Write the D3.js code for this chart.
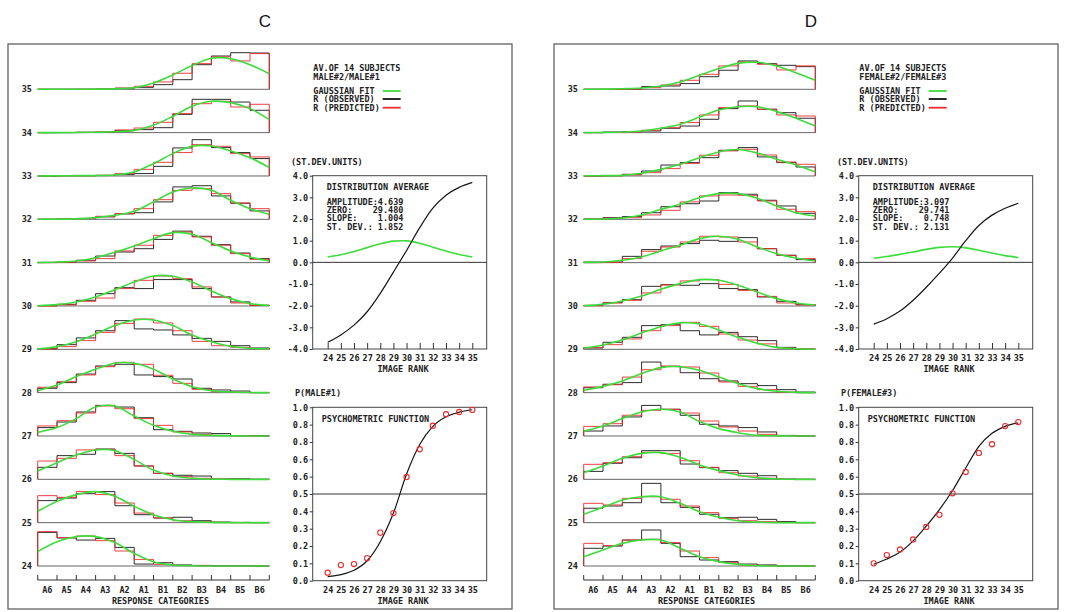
<!DOCTYPE html>
<html>
<head>
<meta charset="utf-8">
<script src="https://cdn.jsdelivr.net/npm/d3@7"></script>
<style>
  body { margin: 0; background: #fff; }
  text { font-family: "DejaVu Sans Mono", monospace; font-size: 8.5px; font-weight: bold; fill: #222; }
  text.title { font-family: "Liberation Sans", Arial, sans-serif; font-size: 17px; font-weight: normal; fill: #111; }
</style>
</head>
<body>
<svg id="chart" width="1066" height="612"></svg>
<script>
// Response categories (x of the histograms) and image ranks (one histogram row each)
const categories = ["A6", "A5", "A4", "A3", "A2", "A1", "B1", "B2", "B3", "B4", "B5", "B6"]
const rowRanks = [24, 25, 26, 27, 28, 29, 30, 31, 32, 33, 34, 35]
const imageRanks = [24, 25, 26, 27, 28, 29, 30, 31, 32, 33, 34, 35]
const zTicks = [-4, -3, -2, -1, 0, 1, 2, 3, 4]
const zTickLabels = ["-4.0", "-3.0", "-2.0", "-1.0", "0.0", "1.0", "2.0", "3.0", "4.0"]
const pTicks = [0, 0.1, 0.2, 0.3, 0.4, 0.5, 0.6, 0.7, 0.8, 0.9, 1.0]
const pTickLabels = ["0.0", "0.1", "0.2", "0.3", "0.4", "0.5", "0.6", "0.6", "0.8", "0.8", "1.0"]

// Panel C: response frequencies (%), rows 24..35, categories A6..B6
const observedC = [
  [22.4, 18.7, 17.3, 18.4, 12.4, 1.3, 2.2, 0.7, 0.4, 0.2, 0.2, 0],
  [14.7, 16.4, 19.3, 20.7, 11.3, 5.3, 3.1, 3.6, 1.3, 0.4, 0.2, 0],
  [8.0, 15.8, 16.7, 20.2, 17.3, 8.9, 4.0, 2.7, 2.2, 0.2, 0.4, 0],
  [5.6, 9.3, 16.0, 20.4, 19.3, 12.2, 4.2, 3.1, 2.0, 1.6, 0.2, 0.2],
  [2.9, 6.7, 12.4, 17.8, 18.9, 11.8, 10.7, 9.1, 2.9, 1.8, 1.1, 0],
  [0.4, 3.1, 7.6, 12.4, 19.1, 13.6, 12.9, 9.6, 7.3, 5.3, 2.4, 0.9],
  [0.2, 1.1, 3.8, 8.2, 12.2, 11.6, 17.6, 17.6, 11.6, 6.0, 2.7, 0.4],
  [0.2, 0.4, 1.6, 4.4, 7.1, 9.3, 15.5, 21.0, 17.6, 12.0, 6.4, 2.7],
  [0, 0.3, 0.6, 1.6, 3.6, 4.4, 11.6, 21.6, 22.4, 15.6, 10.7, 5.6],
  [0, 0.2, 0.2, 0.4, 0.9, 1.6, 6.4, 18.7, 24.2, 18.9, 15.6, 11.6],
  [0, 0, 0.2, 0.4, 1.3, 2.0, 3.3, 12.2, 22.2, 22.2, 20.4, 14.9],
  [0, 0, 0, 0.2, 0.7, 1.3, 3.1, 6.4, 16.4, 22.2, 24.4, 24.2]
]
const predictedC = [
  [22.9, 18.9, 20.0, 16.9, 10.0, 4.4, 1.1, 0.4, 0.2, 0, 0, 0],
  [18.0, 16.9, 20.7, 18.7, 13.1, 6.4, 3.1, 1.3, 0.7, 0.2, 0, 0],
  [12.2, 14.0, 19.6, 20.0, 15.8, 8.9, 4.0, 1.8, 0.7, 0.2, 0, 0],
  [6.7, 10.2, 15.3, 20.0, 18.2, 11.6, 7.1, 2.7, 1.1, 0.4, 0.2, 0],
  [3.6, 7.3, 11.8, 17.3, 20.2, 18.9, 11.6, 6.2, 2.2, 0.7, 0.2, 0],
  [0.2, 1.8, 5.8, 11.3, 17.3, 20.2, 17.6, 12.4, 5.3, 2.4, 1.3, 0.4],
  [0, 0.7, 3.1, 5.3, 11.6, 17.1, 20.0, 18.2, 12.7, 6.0, 2.0, 0.4],
  [0, 0.3, 1.1, 2.7, 7.8, 11.6, 18.2, 20.4, 17.1, 11.6, 6.0, 2.2],
  [0, 0.2, 0.5, 2.0, 3.8, 7.1, 13.1, 19.3, 20.4, 17.1, 10.9, 7.1],
  [0, 0.1, 0.2, 0.4, 1.6, 4.4, 9.1, 15.6, 20.9, 19.8, 14.9, 12.7],
  [0, 0.1, 0.3, 0.5, 1.8, 3.1, 6.9, 12.7, 19.3, 20.9, 17.1, 18.9],
  [0, 0, 0.1, 0.3, 0.8, 2.0, 4.9, 10.7, 17.1, 21.6, 18.9, 23.8]
]
// Gaussian fit, read at the 13 category edges
const gaussC = [
  [9.6, 16.2, 19.6, 19.6, 15.6, 8.4, 2.9, 0.7, 0.2, 0, 0, 0, 0],
  [7.6, 14.2, 18.7, 20.7, 17.6, 10.9, 5.3, 2.0, 0.7, 0.2, 0, 0, 0],
  [5.6, 11.1, 16.2, 19.6, 19.1, 13.3, 6.2, 2.2, 0.7, 0.1, 0, 0, 0],
  [2.4, 5.6, 11.6, 19.3, 20.0, 13.3, 7.1, 3.1, 1.1, 0.4, 0.1, 0, 0],
  [1.3, 5.1, 10.7, 15.6, 19.6, 19.6, 15.6, 9.1, 4.0, 1.3, 0.4, 0.1, 0],
  [0.2, 1.8, 5.1, 10.2, 15.8, 19.6, 19.6, 15.8, 9.6, 5.1, 2.0, 0.7, 0.2],
  [0.2, 0.9, 2.7, 6.0, 10.9, 16.0, 20.0, 19.8, 16.0, 10.0, 4.9, 1.6, 0.4],
  [0, 0.4, 1.1, 3.3, 6.9, 11.1, 16.0, 20.0, 18.9, 13.3, 7.8, 3.8, 1.1],
  [0, 0.1, 0.3, 1.1, 2.7, 5.3, 11.6, 18.2, 20.9, 19.3, 12.7, 7.1, 3.3],
  [0, 0.1, 0.2, 0.3, 0.7, 2.7, 8.2, 14.9, 19.8, 20.0, 16.7, 12.2, 5.6],
  [0, 0, 0.1, 0.3, 0.6, 1.5, 4.9, 10.9, 17.6, 20.9, 20.0, 16.0, 8.7],
  [0, 0, 0, 0.1, 0.3, 1.0, 4.2, 9.6, 15.8, 20.7, 20.4, 16.4, 10.4]
]
const zCurveC = [-3.69, -3.35, -2.9, -2.28, -1.43, -0.45, 0.55, 1.6, 2.5, 3.1, 3.46, 3.69]
const zGaussC = [0.25, 0.35, 0.5, 0.68, 0.86, 0.98, 0.99, 0.88, 0.7, 0.52, 0.36, 0.25]
const psychPointsC = [0.046, 0.09, 0.096, 0.13, 0.277, 0.39, 0.598, 0.758, 0.894, 0.96, 0.973, 0.985]
const psychCurveC = [0.023, 0.035, 0.06, 0.115, 0.225, 0.39, 0.615, 0.785, 0.89, 0.945, 0.972, 0.986]
const paramsC = ["AMPLITUDE:4.639", "ZERO:    29.480", "SLOPE:    1.004", "ST. DEV.: 1.852"]

// Panel D
const observedD = [
  [11.8, 13.3, 17.3, 24.0, 15.1, 6.2, 4.0, 2.9, 1.3, 0.7, 0, 0],
  [9.6, 11.1, 13.3, 26.2, 13.3, 10.2, 5.6, 3.3, 3.6, 2.2, 0.7, 0],
  [5.3, 10.7, 14.4, 19.1, 19.1, 10.2, 7.8, 5.8, 4.0, 2.4, 0.2, 0],
  [3.3, 6.7, 12.7, 20.4, 17.8, 13.8, 7.8, 6.7, 5.6, 2.7, 0.4, 0],
  [3.3, 5.6, 6.7, 20.4, 17.6, 13.3, 9.3, 7.8, 6.0, 4.7, 2.0, 0.4],
  [0.9, 4.7, 8.0, 15.8, 16.4, 12.4, 9.6, 11.3, 8.4, 5.8, 1.3, 0.2],
  [0.4, 2.2, 4.2, 13.1, 14.2, 13.8, 14.9, 11.6, 10.9, 6.0, 3.1, 0.9],
  [0.4, 0.4, 4.2, 8.7, 11.1, 12.7, 14.9, 14.2, 16.7, 9.3, 4.9, 2.0],
  [0.2, 1.1, 1.8, 4.4, 8.4, 10.4, 12.2, 17.8, 16.7, 12.7, 8.9, 4.0],
  [0, 0.2, 1.1, 3.3, 7.3, 8.9, 12.2, 17.1, 18.9, 12.7, 8.9, 6.0],
  [0, 0.4, 0.7, 1.1, 2.9, 4.4, 8.9, 16.0, 21.1, 15.6, 13.3, 9.6],
  [0, 0, 0.2, 1.8, 2.2, 3.8, 8.4, 12.7, 18.9, 17.1, 16.0, 15.1]
]
const predictedD = [
  [15.1, 13.6, 17.3, 17.8, 15.6, 10.0, 5.6, 2.4, 0.7, 0.4, 0, 0],
  [12.9, 11.8, 16.2, 17.3, 15.6, 11.1, 6.7, 2.9, 1.3, 0.7, 0.2, 0],
  [10.0, 11.1, 15.1, 18.0, 17.3, 12.4, 8.0, 4.4, 2.2, 0.7, 0, 0],
  [6.4, 8.2, 13.8, 17.1, 17.8, 15.3, 10.0, 6.0, 3.3, 1.1, 0.2, 0],
  [3.8, 5.3, 10.4, 15.3, 17.6, 17.1, 13.1, 7.1, 4.2, 2.0, 0.4, 0],
  [1.1, 3.1, 6.9, 12.4, 15.8, 18.0, 15.3, 10.2, 6.2, 3.6, 0.9, 0.2],
  [0.2, 2.0, 3.8, 8.7, 14.0, 16.7, 17.6, 14.4, 10.4, 6.4, 2.0, 0.7],
  [0, 0.2, 2.7, 7.6, 10.4, 13.8, 17.6, 17.1, 13.8, 9.3, 4.9, 2.7],
  [0, 0.7, 1.1, 2.9, 6.0, 11.6, 15.6, 16.2, 16.0, 12.2, 6.7, 5.1],
  [0, 0.1, 0.7, 2.2, 4.9, 8.4, 13.8, 16.7, 17.8, 14.0, 9.3, 7.8],
  [0, 0.2, 0.4, 1.6, 3.3, 6.7, 11.8, 16.7, 17.8, 15.6, 11.8, 11.1],
  [0, 0, 0.1, 1.1, 2.9, 6.0, 10.0, 15.6, 18.2, 16.7, 12.9, 15.6]
]
const gaussD = [
  [6.2, 10.7, 15.1, 17.3, 17.3, 11.8, 6.2, 2.9, 1.1, 0.2, 0, 0, 0],
  [5.6, 10.2, 15.1, 17.3, 17.3, 12.9, 7.3, 3.6, 1.3, 0.4, 0, 0, 0],
  [4.4, 8.9, 14.0, 17.3, 17.8, 14.7, 9.6, 5.8, 2.9, 1.1, 0.2, 0, 0],
  [3.3, 6.7, 11.6, 16.0, 17.8, 16.0, 9.6, 4.9, 2.2, 0.4, 0.1, 0, 0],
  [1.6, 4.2, 7.8, 12.7, 16.7, 17.3, 14.9, 10.4, 6.0, 2.7, 0.9, 0.2, 0],
  [0.9, 2.9, 6.2, 10.9, 15.1, 17.6, 16.9, 12.9, 8.0, 4.0, 1.3, 0.4, 0],
  [0.2, 1.1, 3.3, 6.7, 11.1, 14.9, 17.6, 17.1, 13.8, 9.3, 4.9, 2.0, 0.7],
  [0.2, 0.4, 1.6, 3.8, 7.8, 11.6, 16.0, 17.6, 15.6, 10.4, 6.0, 3.1, 1.1],
  [0, 0.2, 0.9, 2.9, 6.7, 10.0, 14.4, 17.1, 17.1, 14.0, 8.9, 4.4, 2.2],
  [0.1, 0.2, 0.4, 1.8, 4.4, 7.8, 12.2, 16.0, 17.6, 15.3, 11.1, 7.3, 2.7],
  [0, 0.2, 0.4, 1.1, 2.9, 5.6, 10.4, 15.1, 17.3, 17.3, 14.0, 9.6, 4.4],
  [0, 0.1, 0.4, 0.9, 2.2, 4.9, 9.3, 13.8, 17.3, 18.0, 15.6, 11.1, 6.0]
]
const zCurveD = [-2.85, -2.6, -2.25, -1.75, -1.15, -0.5, 0.2, 1.0, 1.7, 2.18, 2.5, 2.73]
const zGaussD = [0.19, 0.27, 0.37, 0.48, 0.6, 0.69, 0.72, 0.67, 0.56, 0.43, 0.31, 0.22]
const psychPointsD = [0.1, 0.148, 0.18, 0.238, 0.31, 0.38, 0.504, 0.627, 0.737, 0.787, 0.892, 0.915]
const psychCurveD = [0.095, 0.125, 0.165, 0.23, 0.315, 0.41, 0.52, 0.65, 0.775, 0.85, 0.89, 0.91]
const paramsD = ["AMPLITUDE:3.097", "ZERO:    29.741", "SLOPE:    0.748", "ST. DEV.: 2.131"]

const panels = [
  {dx: 0, title: "C", pair: "MALE#2/MALE#1", pLabel: "P(MALE#1)", params: paramsC,
    observed: observedC, predicted: predictedC, gauss: gaussC,
    zCurve: zCurveC, zGauss: zGaussC, pPoints: psychPointsC, pCurve: psychCurveC},
  {dx: 546, title: "D", pair: "FEMALE#2/FEMALE#3", pLabel: "P(FEMALE#3)", params: paramsD,
    observed: observedD, predicted: predictedD, gauss: gaussD,
    zCurve: zCurveD, zGauss: zGaussD, pPoints: psychPointsD, pCurve: psychCurveD}
]

const GREEN = "#3ddc3d", RED = "#ee2a2a", BLACK = "#151515", GREY = "#666"

// Scales shared by both panels (panel D is shifted with a transform)
const xCat = d3.scaleBand().domain(categories).range([37.7, 269.3]).padding(0)
const xEdge = d3.scaleLinear().domain([0, categories.length]).range([37.7, 269.3])
const yRow = d3.scaleLinear().domain([24, 35]).range([566, 89.3])
const hScale = d3.scaleLinear().domain([0, 30]).range([0, 45])
const xRank = d3.scaleLinear().domain([24, 35]).range([327.7, 472.3])
const yZ = d3.scaleLinear().domain([-4, 4]).range([349, 175.7])
const yP = d3.scaleLinear().domain([0, 1]).range([580.7, 407.3])
const box1 = {x0: 312.7, x1: 486.7, y0: 175.7, y1: 349}
const box2 = {x0: 312.7, x1: 486.7, y0: 407.3, y1: 580.7}

const svg = d3.select("#chart")

/**
 * Outline of a step histogram for one row, closed down to the baseline at both ends.
 */
const stepPoints = (vals, base) => {
  const bw = xCat.bandwidth()
  const pts = [[xCat(categories[0]), base]]
  vals.forEach((v, i) => {
    const x = xCat(categories[i])
    pts.push([x, base - hScale(v)], [x + bw, base - hScale(v)])
  })
  pts.push([xCat(categories[categories.length - 1]) + bw, base])
  return pts
}

const drawHistograms = (g, p) => {
  const line = d3.line()
  rowRanks.forEach((r, ri) => {
    const base = yRow(r)
    g.append("line")
      .attr("x1", xEdge(0)).attr("x2", xEdge(categories.length))
      .attr("y1", base).attr("y2", base)
      .attr("stroke", GREY).attr("stroke-width", 1)
    g.append("path").attr("d", line(stepPoints(p.observed[ri], base)))
      .attr("fill", "none").attr("stroke", BLACK).attr("stroke-width", 0.9)
    g.append("path").attr("d", line(stepPoints(p.predicted[ri], base)))
      .attr("fill", "none").attr("stroke", RED).attr("stroke-width", 0.9)
    const gLine = d3.line()
      .x((d, i) => xEdge(i))
      .y(d => base - hScale(d))
      .curve(d3.curveCatmullRom.alpha(0.5))
    g.append("path").attr("d", gLine(p.gauss[ri]))
      .attr("fill", "none").attr("stroke", GREEN).attr("stroke-width", 1.6)
    g.append("text")
      .attr("x", 32).attr("y", base + 3)
      .attr("text-anchor", "end")
      .text(r)
  })

  // Category axis below the rows: ticks rising from the line at every category edge
  const axisY = 580
  g.append("line")
    .attr("x1", xEdge(0)).attr("x2", xEdge(categories.length))
    .attr("y1", axisY).attr("y2", axisY)
    .attr("stroke", "#333")
  d3.range(categories.length + 1).forEach(i => {
    g.append("line")
      .attr("x1", xEdge(i)).attr("x2", xEdge(i))
      .attr("y1", axisY).attr("y2", axisY - 5)
      .attr("stroke", "#333")
  })
  categories.forEach(c => {
    g.append("text")
      .attr("x", xCat(c) + xCat.bandwidth() / 2)
      .attr("y", 593)
      .attr("text-anchor", "middle")
      .text(c)
  })
  g.append("text").attr("x", 160.5).attr("y", 604).attr("text-anchor", "middle")
    .text("RESPONSE CATEGORIES")
}

const drawLegend = (g, p) => {
  g.append("text").attr("x", 313.3).attr("y", 71.3).style("white-space", "pre").text("AV.OF 14 SUBJECTS")
  g.append("text").attr("x", 313.3).attr("y", 79.7).text(p.pair)
  const items = [["GAUSSIAN FIT", GREEN, 91], ["R (OBSERVED)", BLACK, 99], ["R (PREDICTED)", RED, 107.7]]
  items.forEach(([label, colour, y]) => {
    g.append("text").attr("x", 313.3).attr("y", y + 3).text(label)
    g.append("line")
      .attr("x1", 382.7).attr("x2", 400.7).attr("y1", y).attr("y2", y)
      .attr("stroke", colour).attr("stroke-width", 1.8)
  })
}

const styleAxis = (sel) => {
  sel.select(".domain").remove()
  sel.selectAll(".tick line").attr("stroke", "#333")
}

const drawFrame = (g, b) => {
  g.append("rect")
    .attr("x", b.x0).attr("y", b.y0)
    .attr("width", b.x1 - b.x0).attr("height", b.y1 - b.y0)
    .attr("fill", "none").attr("stroke", "#444").attr("stroke-width", 1)
}

const drawDistribution = (g, p) => {
  g.append("text").attr("x", 291).attr("y", 165.4).text("(ST.DEV.UNITS)")
  drawFrame(g, box1)
  g.append("line")
    .attr("x1", box1.x0).attr("x2", box1.x1)
    .attr("y1", yZ(0)).attr("y2", yZ(0))
    .attr("stroke", "#333")

  g.append("g").attr("transform", `translate(${box1.x0},0)`)
    .call(d3.axisLeft(yZ).tickValues(zTicks).tickSize(3).tickPadding(1.5)
      .tickFormat((d, i) => zTickLabels[i]))
    .call(styleAxis)
  g.append("g").attr("transform", `translate(0,${box1.y1})`)
    .call(d3.axisBottom(xRank).tickValues(imageRanks).tickSize(-6).tickPadding(6)
      .tickFormat(d => d))
    .call(styleAxis)
  g.append("text").attr("x", 403).attr("y", 372.3).attr("text-anchor", "middle").text("IMAGE RANK")

  const zLine = d3.line()
    .x((d, i) => xRank(imageRanks[i]))
    .y(d => yZ(d))
    .curve(d3.curveCatmullRom.alpha(0.5))
  g.append("path").attr("d", zLine(p.zGauss))
    .attr("fill", "none").attr("stroke", GREEN).attr("stroke-width", 1.6)
  g.append("path").attr("d", zLine(p.zCurve))
    .attr("fill", "none").attr("stroke", BLACK).attr("stroke-width", 1.2)

  g.append("text").attr("x", 326.7).attr("y", 189.7).text("DISTRIBUTION AVERAGE")
  p.params.forEach((s, i) => {
    g.append("text")
      .attr("x", 326.7).attr("y", 204.7 + i * 8.35)
      .style("white-space", "pre")
      .text(s)
  })
}

const drawPsychometric = (g, p) => {
  g.append("text").attr("x", 295).attr("y", 395.7).text(p.pLabel)
  drawFrame(g, box2)
  g.append("line")
    .attr("x1", box2.x0).attr("x2", box2.x1)
    .attr("y1", yP(0.5)).attr("y2", yP(0.5))
    .attr("stroke", "#333")

  g.append("g").attr("transform", `translate(${box2.x0},0)`)
    .call(d3.axisLeft(yP).tickValues(pTicks).tickSize(3).tickPadding(1.5)
      .tickFormat((d, i) => pTickLabels[i]))
    .call(styleAxis)
  g.append("g").attr("transform", `translate(0,${box2.y1})`)
    .call(d3.axisBottom(xRank).tickValues(imageRanks).tickSize(0).tickPadding(6)
      .tickFormat(d => d))
    .call(styleAxis)
  g.append("text").attr("x", 403).attr("y", 603.7).attr("text-anchor", "middle").text("IMAGE RANK")

  const pLine = d3.line()
    .x((d, i) => xRank(imageRanks[i]))
    .y(d => yP(d))
    .curve(d3.curveMonotoneX)
  g.append("path").attr("d", pLine(p.pCurve))
    .attr("fill", "none").attr("stroke", BLACK).attr("stroke-width", 1.2)
  g.selectAll("circle.pt").data(p.pPoints).enter().append("circle")
    .attr("class", "pt")
    .attr("cx", (d, i) => xRank(imageRanks[i]))
    .attr("cy", d => yP(d))
    .attr("r", 2.6)
    .attr("fill", "none").attr("stroke", RED).attr("stroke-width", 1.1)

  g.append("text").attr("x", 321.7).attr("y", 422).text("PSYCHOMETRIC FUNCTION")
}

panels.forEach(p => {
  const g = svg.append("g").attr("transform", `translate(${p.dx},0)`)
  g.append("text").attr("class", "title").attr("x", 265).attr("y", 27).attr("text-anchor", "middle").text(p.title)
  g.append("rect")
    .attr("x", 8).attr("y", 44).attr("width", 504).attr("height", 565)
    .attr("fill", "none").attr("stroke", "#555").attr("stroke-width", 1.2)
  drawHistograms(g, p)
  drawLegend(g, p)
  drawDistribution(g, p)
  drawPsychometric(g, p)
})
</script>
</body>
</html>
